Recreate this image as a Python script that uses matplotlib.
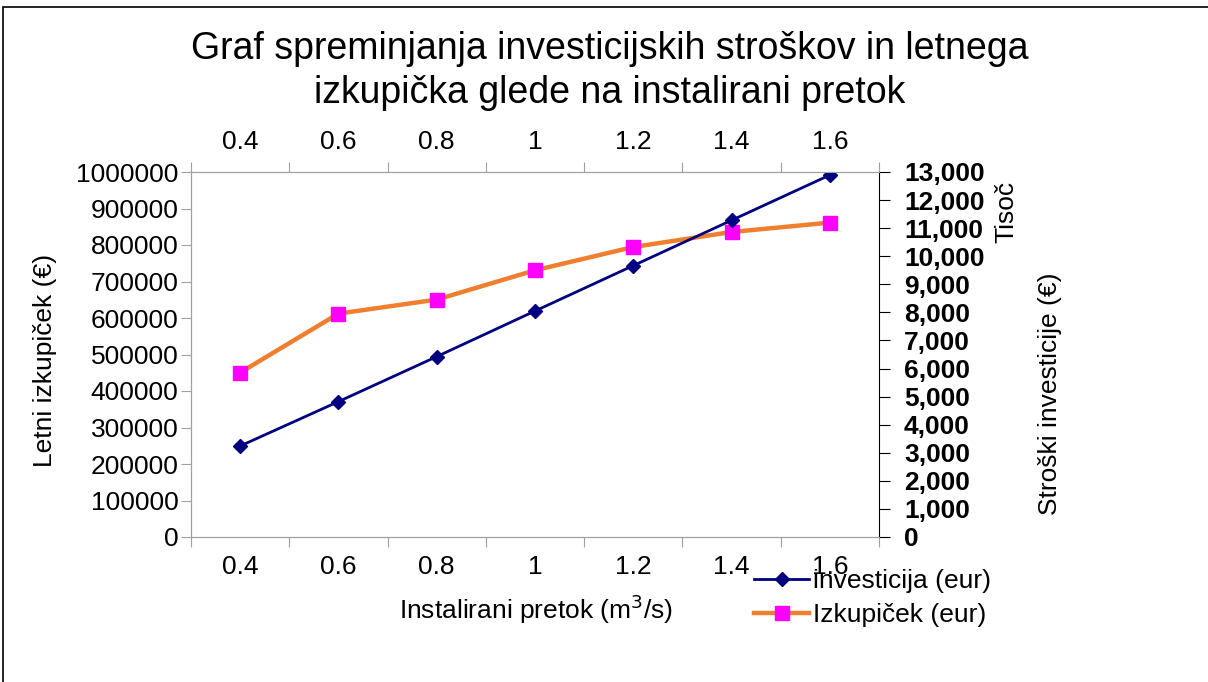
import numpy as np
import matplotlib
matplotlib.use("Agg")
import matplotlib.pyplot as plt
from matplotlib.patches import Rectangle
from matplotlib.ticker import FuncFormatter

plt.rcParams['font.family'] = ['Liberation Sans', 'DejaVu Sans']

flow = ["0.4", "0.6", "0.8", "1", "1.2", "1.4", "1.6"]
investicija = [3241000, 4822000, 6425000, 8049000, 9666000, 11280000, 12893000]  # eur
izkupicek = [450400, 612000, 650400, 730700, 794500, 835600, 861400]  # eur

grey = "#a0a0a0"
fs = 19
W, H = 1208, 682

fig = plt.figure(figsize=(W/100, H/100), dpi=100)
# outer frame (only top and left visible in the reference)
fig.patches.append(Rectangle((3/W, -0.2), 1.5, 1.2 - 7/H, transform=fig.transFigure,
                             fill=False, edgecolor="black", linewidth=1.2))

ax = fig.add_axes([191/W, 1 - 537/H, 688/W, 365/H])
ax2 = ax.twinx()
x = np.arange(len(flow))

ax.plot(x, izkupicek, color="#ef7f2f", lw=3.2, marker="s", ms=10,
        mfc="#ff00ff", mec="#ff00ff", label="Izkupiček (eur)", zorder=3)
ax2.plot(x, np.array(investicija)/1000, color="#000080", lw=2, marker="D", ms=7,
         mfc="#000080", mec="#000080", label="investicija (eur)")

ax.set_xlim(-0.5, len(flow) - 0.5)
ax.set_ylim(0, 1000000)
ax.set_yticks(np.arange(0, 1000001, 100000))
ax.yaxis.set_major_formatter(FuncFormatter(lambda v, p: "%d" % v))
ax2.set_ylim(0, 13000)
ax2.set_yticks(np.arange(0, 13001, 1000))
ax2.yaxis.set_major_formatter(FuncFormatter(lambda v, p: "{:,.0f}".format(v)))

# category boundaries as major ticks, labels on minor ticks
ax.set_xticks(np.arange(-0.5, len(flow), 1.0))
ax.set_xticklabels([])
ax.set_xticks(x, minor=True)
ax.set_xticklabels(flow, minor=True)
ax.tick_params(axis="x", which="major", length=7, color=grey, top=True, direction="out")
ax.tick_params(axis="x", which="minor", length=0, top=True, labeltop=True,
               labelsize=fs, pad=13)
ax.tick_params(axis="y", length=7, color=grey, labelsize=fs, pad=2)
ax2.tick_params(axis="y", length=8, color="black", labelsize=fs, pad=10)
for lbl in ax2.get_yticklabels():
    lbl.set_fontweight("bold")

for s in ["left", "top", "bottom"]:
    ax.spines[s].set_color(grey)
    ax2.spines[s].set_color(grey)
ax.spines["right"].set_visible(False)
ax2.spines["right"].set_color("black")

fig.text(536/W, 1 - 609/H, "Instalirani pretok (m$^3$/s)", fontsize=fs, ha="center", va="center")
fig.text(45/W, 1 - 360/H, "Letni izkupiček (€)", rotation=90, fontsize=fs, ha="center", va="center")
fig.text(1050/W, 1 - 394/H, "Stroški investicije (€)", rotation=90, fontsize=fs,
         ha="center", va="center")
fig.text(1006/W, 1 - 212/H, "Tisoč", rotation=90, fontsize=fs, ha="center", va="center")

fig.suptitle("Graf spreminjanja investicijskih stroškov in letnega\nizkupička glede na instalirani pretok",
             fontsize=27, x=610/W, y=1 - 31/H, va="top", linespacing=1.3)

h2, l2 = ax2.get_legend_handles_labels()
h1, l1 = ax.get_legend_handles_labels()
fig.legend(h2 + h1, l2 + l1, loc="upper left", bbox_to_anchor=(754/W, 1 - 569/H),
           frameon=False, fontsize=fs, handlelength=2.1, handletextpad=0.15,
           borderpad=0, borderaxespad=0, labelspacing=0.38)

fig.savefig("out.png", dpi=100)
